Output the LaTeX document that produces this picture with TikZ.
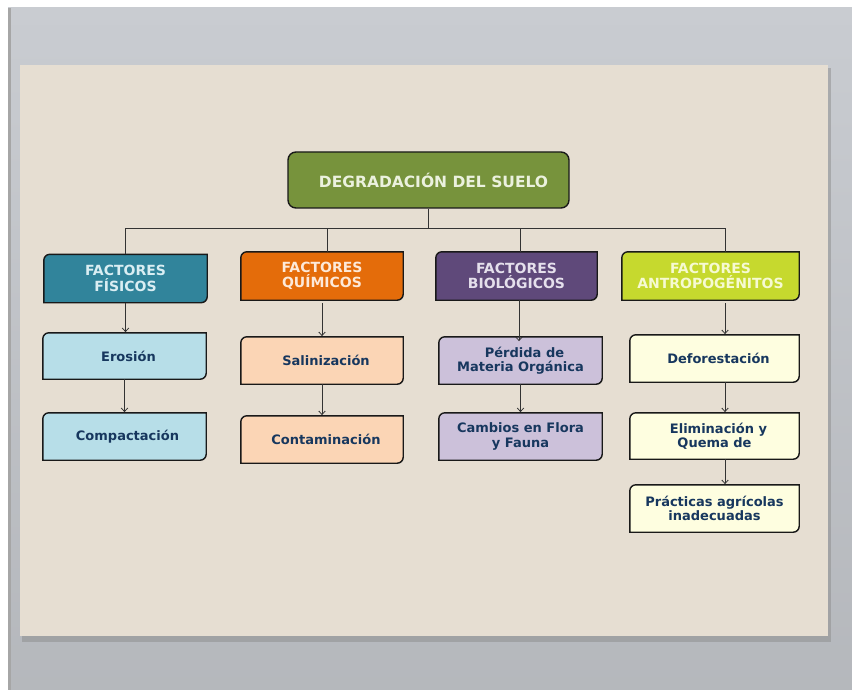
\documentclass[tikz,border=0pt]{standalone}
\usepackage{fontspec}
\setmainfont{DejaVu Sans}
\usepackage{tikz}
\usetikzlibrary{arrows.meta,backgrounds}
\definecolor{pagegray}{HTML}{C9CCD1}
\definecolor{slidebg}{HTML}{E6DED2}
\definecolor{titlefill}{HTML}{77933C}
\definecolor{titletext}{HTML}{EBF1DE}
\definecolor{fisfill}{HTML}{31849B}
\definecolor{fistext}{HTML}{DAEEF3}
\definecolor{quifill}{HTML}{E46C0A}
\definecolor{quitext}{HTML}{FDE9D9}
\definecolor{biofill}{HTML}{5F497A}
\definecolor{biotext}{HTML}{E5E0EC}
\definecolor{antfill}{HTML}{C6D92E}
\definecolor{anttext}{HTML}{F6FAD2}
\definecolor{fislight}{HTML}{B7DEE8}
\definecolor{quilight}{HTML}{FBD5B5}
\definecolor{biolight}{HTML}{CCC1DA}
\definecolor{antlight}{HTML}{FEFEE0}
\definecolor{hijotext}{HTML}{17375E}
\newcommand{\radio}{6pt}
\newcommand{\grosor}{1.4pt}

\begin{document}
\begin{tikzpicture}[x=1pt,y=-1pt,
	factor/.style={rectangle, inner sep=0pt, minimum height=48pt, align=center,
		font=\fontsize{14}{15.5}\selectfont\bfseries},
	hijo/.style={rectangle, inner sep=0pt, minimum height=47pt, align=center,
		text=hijotext, font=\fontsize{13}{14.5}\selectfont\bfseries},
	caja/.style={draw=black!90, line width=\grosor},
	conn/.style={draw=black!80, line width=0.8pt},
	flecha/.style={conn, ->, >={Straight Barb[length=3.5pt,width=6.5pt]}, shorten >=0.7pt}]
	
	\useasboundingbox (0,0) rectangle (852,690);
	%\draw[help lines] (0,0) grid[step=50] (852,690);
	
	% titulo
	\node[caja, fill=titlefill, rounded corners=8pt, minimum width=281pt, minimum height=56pt,
		text=titletext, font=\fontsize{15.5}{17}\selectfont\bfseries] (title) at (428.5,180)
		{\hspace*{10pt}DEGRADACIÓN DEL SUELO};
	
	% factores
	\node[factor, minimum width=163pt, text=fistext] (fis) at (125.5,278.5) {FACTORES\\FÍSICOS};
	\node[factor, minimum width=162pt, text=quitext] (qui) at (322,276) {FACTORES\\QUÍMICOS};
	\node[factor, minimum width=161pt, text=biotext] (bio) at (516.5,276) {FACTORES\\BIOLÓGICOS};
	\node[factor, minimum width=177pt, text=anttext] (ant) at (710.5,276) {FACTORES\\ANTROPOGÉNITOS};
	
	% consecuencias
	\node[hijo, minimum width=163pt, minimum height=46pt] (ero) at (124.5,356) {\hspace*{8pt}Erosión};
	\node[hijo, minimum width=163pt] (com) at (124.5,436.5) {\hspace*{6pt}Compactación};
	\node[hijo, minimum width=162pt] (sal) at (322,360.5) {\hspace*{8pt}Salinización};
	\node[hijo, minimum width=162pt] (con) at (322,439.5) {\hspace*{8pt}Contaminación};
	\node[hijo, minimum width=163pt] (per) at (520.5,360.5) {\hspace*{8pt}Pérdida de\\Materia Orgánica};
	\node[hijo, minimum width=163pt] (cam) at (520.5,436.5) {Cambios en Flora\\y Fauna};
	\node[hijo, minimum width=169pt] (def) at (714.5,358.5) {\hspace*{8pt}Deforestación};
	\node[hijo, minimum width=169pt, minimum height=46pt] (eli) at (714.5,436) {\hspace*{8pt}Eliminación y\\Quema de};
	\node[hijo, minimum width=169pt] (pra) at (714.5,508.5) {Prácticas agrícolas\\inadecuadas};
	
	% lineas
	\coordinate (bus) at (428.5,228);
	\coordinate (ax) at (725,228);
	\draw[conn] (title.south) -- (bus);
	\draw[conn] (bus) -| (fis.north);
	\draw[conn] (bus) -| ([xshift=5pt]qui.north);
	\draw[conn] (bus) -| ([xshift=3.5pt]bio.north);
	\draw[conn] (bus) -- (ax) -- (ant.north -| ax);
	
	\draw[flecha] (fis.south) -- (fis.south |- ero.north);
	\draw[flecha] (ero) -- (com);
	\draw[flecha] ([yshift=-3pt]qui.south) -- (sal);
	\draw[flecha] (sal) -- (con);
	\draw[flecha] ([xshift=2.5pt]bio.south) -- ([xshift=2.5pt,yshift=-5pt]bio.south |- per.north);
	\draw[flecha] (per) -- (cam);
	\draw[flecha] ([yshift=-3pt]ant.south -| ax) -- (def.north -| ax);
	\draw[flecha] (def.south -| ax) -- (eli.north -| ax);
	\draw[flecha] (eli.south -| ax) -- (pra.north -| ax);
	
	\begin{scope}[on background layer]
	% pagina y diapositiva
	\fill[white] (0,0) rectangle (852,690);
	\shade[top color=pagegray, bottom color=pagegray!90!black] (8,8) rectangle (852,690);
	\fill[black!35] (8,8) rectangle (11,690);
	\fill[black!45, opacity=0.5] (22,68) rectangle (831,642);
	\fill[slidebg] (20,65) rectangle (828,636);
	% cajas
	\foreach \n/\c in {fis/fisfill, qui/quifill, bio/biofill, ant/antfill,
		ero/fislight, com/fislight, sal/quilight, con/quilight,
		per/biolight, cam/biolight, def/antlight, eli/antlight, pra/antlight}
	{
		\draw[caja, fill=\c] (\n.south west) -- ([yshift=-\radio]\n.north west)
			arc(180:90:\radio) -- (\n.north east) -- ([yshift=\radio]\n.south east)
			arc(0:-90:\radio) -- cycle;
	}
	\end{scope}
\end{tikzpicture}
\end{document}
